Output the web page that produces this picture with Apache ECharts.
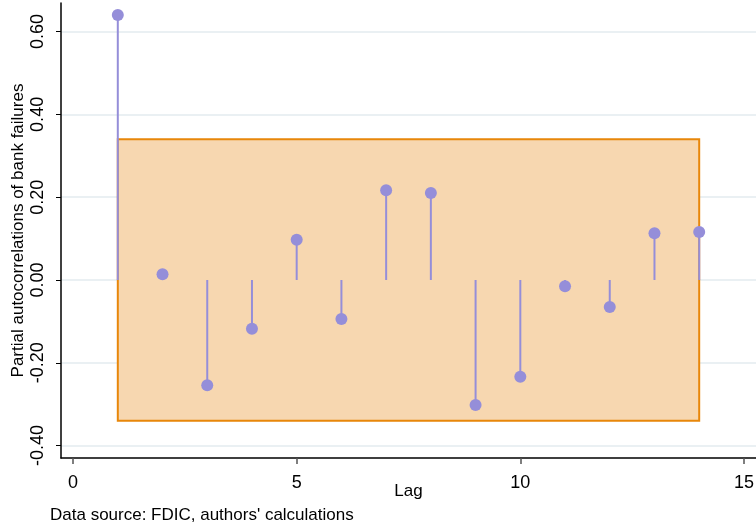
<!DOCTYPE html>
<html>
<head>
<meta charset="utf-8">
<script src="https://cdn.jsdelivr.net/npm/echarts@6/dist/echarts.min.js"></script>
<style>
  html, body { margin: 0; padding: 0; background: #fff; }
  #chart { width: 756px; height: 531px; }
</style>
</head>
<body>
<div id="chart"></div>
<script>
// lags and partial autocorrelations
var lags = [1, 2, 3, 4, 5, 6, 7, 8, 9, 10, 11, 12, 13, 14];
var pacf = [0.640, 0.014, -0.254, -0.118, 0.097, -0.094, 0.217, 0.210, -0.302, -0.234, -0.015, -0.065, 0.113, 0.116];
// confidence band
var bandLags = [1, 14];
var bandBounds = [-0.34, 0.34];
// ticks
var xTicks = [0, 5, 10, 15];
var yTicks = [-0.4, -0.2, 0, 0.2, 0.4, 0.6];

var points = lags.map(function (l, i) { return [l, pacf[i]]; });
var stemColor = '#958ed9';
var font = 'Liberation Sans, Arial, sans-serif';

var myChart = echarts.init(document.getElementById('chart'));
myChart.setOption({
    animation: false,
    grid: { left: 61, top: 3, right: 0, bottom: 73, outerBoundsMode: 'none' },
    xAxis: {
        type: 'value',
        min: -0.27,
        max: 15.27,
        name: 'Lag',
        nameLocation: 'middle',
        nameGap: 25,
        nameMoveOverlap: false,
        nameTextStyle: { fontFamily: font, fontSize: 17, color: '#000' },
        axisLine: { onZero: false, lineStyle: { color: '#000', width: 1.5 } },
        axisTick: { show: true, length: 6, customValues: xTicks, lineStyle: { color: '#555', width: 1.5 } },
        axisLabel: { customValues: xTicks, fontFamily: font, fontSize: 18, color: '#000', margin: 16 },
        splitLine: { show: false }
    },
    yAxis: {
        type: 'value',
        min: -0.43,
        max: 0.669,
        name: 'Partial autocorrelations of bank failures',
        nameLocation: 'middle',
        nameGap: 34,
        nameMoveOverlap: false,
        nameRotate: 90,
        nameTextStyle: { fontFamily: font, fontSize: 17, color: '#000' },
        axisLine: { show: true, onZero: false, lineStyle: { color: '#000', width: 1.5 } },
        axisTick: { show: true, length: 5, customValues: yTicks, lineStyle: { color: '#000' } },
        axisLabel: {
            customValues: yTicks,
            rotate: 90,
            fontFamily: font, fontSize: 18, color: '#000', margin: 14,
            formatter: function (v) { return v.toFixed(2); }
        },
        splitLine: { show: true, lineStyle: { color: '#eaf0f3', width: 2 } }
    },
    graphic: [{
        type: 'text',
        left: 50,
        top: 507,
        style: { text: "Data source: FDIC, authors' calculations", fontFamily: font, fontSize: 17, fill: '#000' }
    }],
    series: [{
        type: 'custom',
        z: 2,
        data: points,
        renderItem: function (params, api) {
            var p0 = api.coord([api.value(0), 0]);
            var p1 = api.coord([api.value(0), api.value(1)]);
            return {
                type: 'line',
                shape: { x1: p0[0], y1: p0[1], x2: p1[0], y2: p1[1] },
                style: { stroke: stemColor, lineWidth: 2 }
            };
        },
        markArea: {
            silent: true,
            itemStyle: { color: '#f7d7b0', borderColor: '#e8870a', borderWidth: 2 },
            data: [[{ coord: [bandLags[0], bandBounds[0]] }, { coord: [bandLags[1], bandBounds[1]] }]]
        }
    }, {
        type: 'scatter',
        z: 3,
        data: points,
        symbolSize: 12,
        itemStyle: { color: stemColor, opacity: 1 }
    }]
});
</script>
</body>
</html>
